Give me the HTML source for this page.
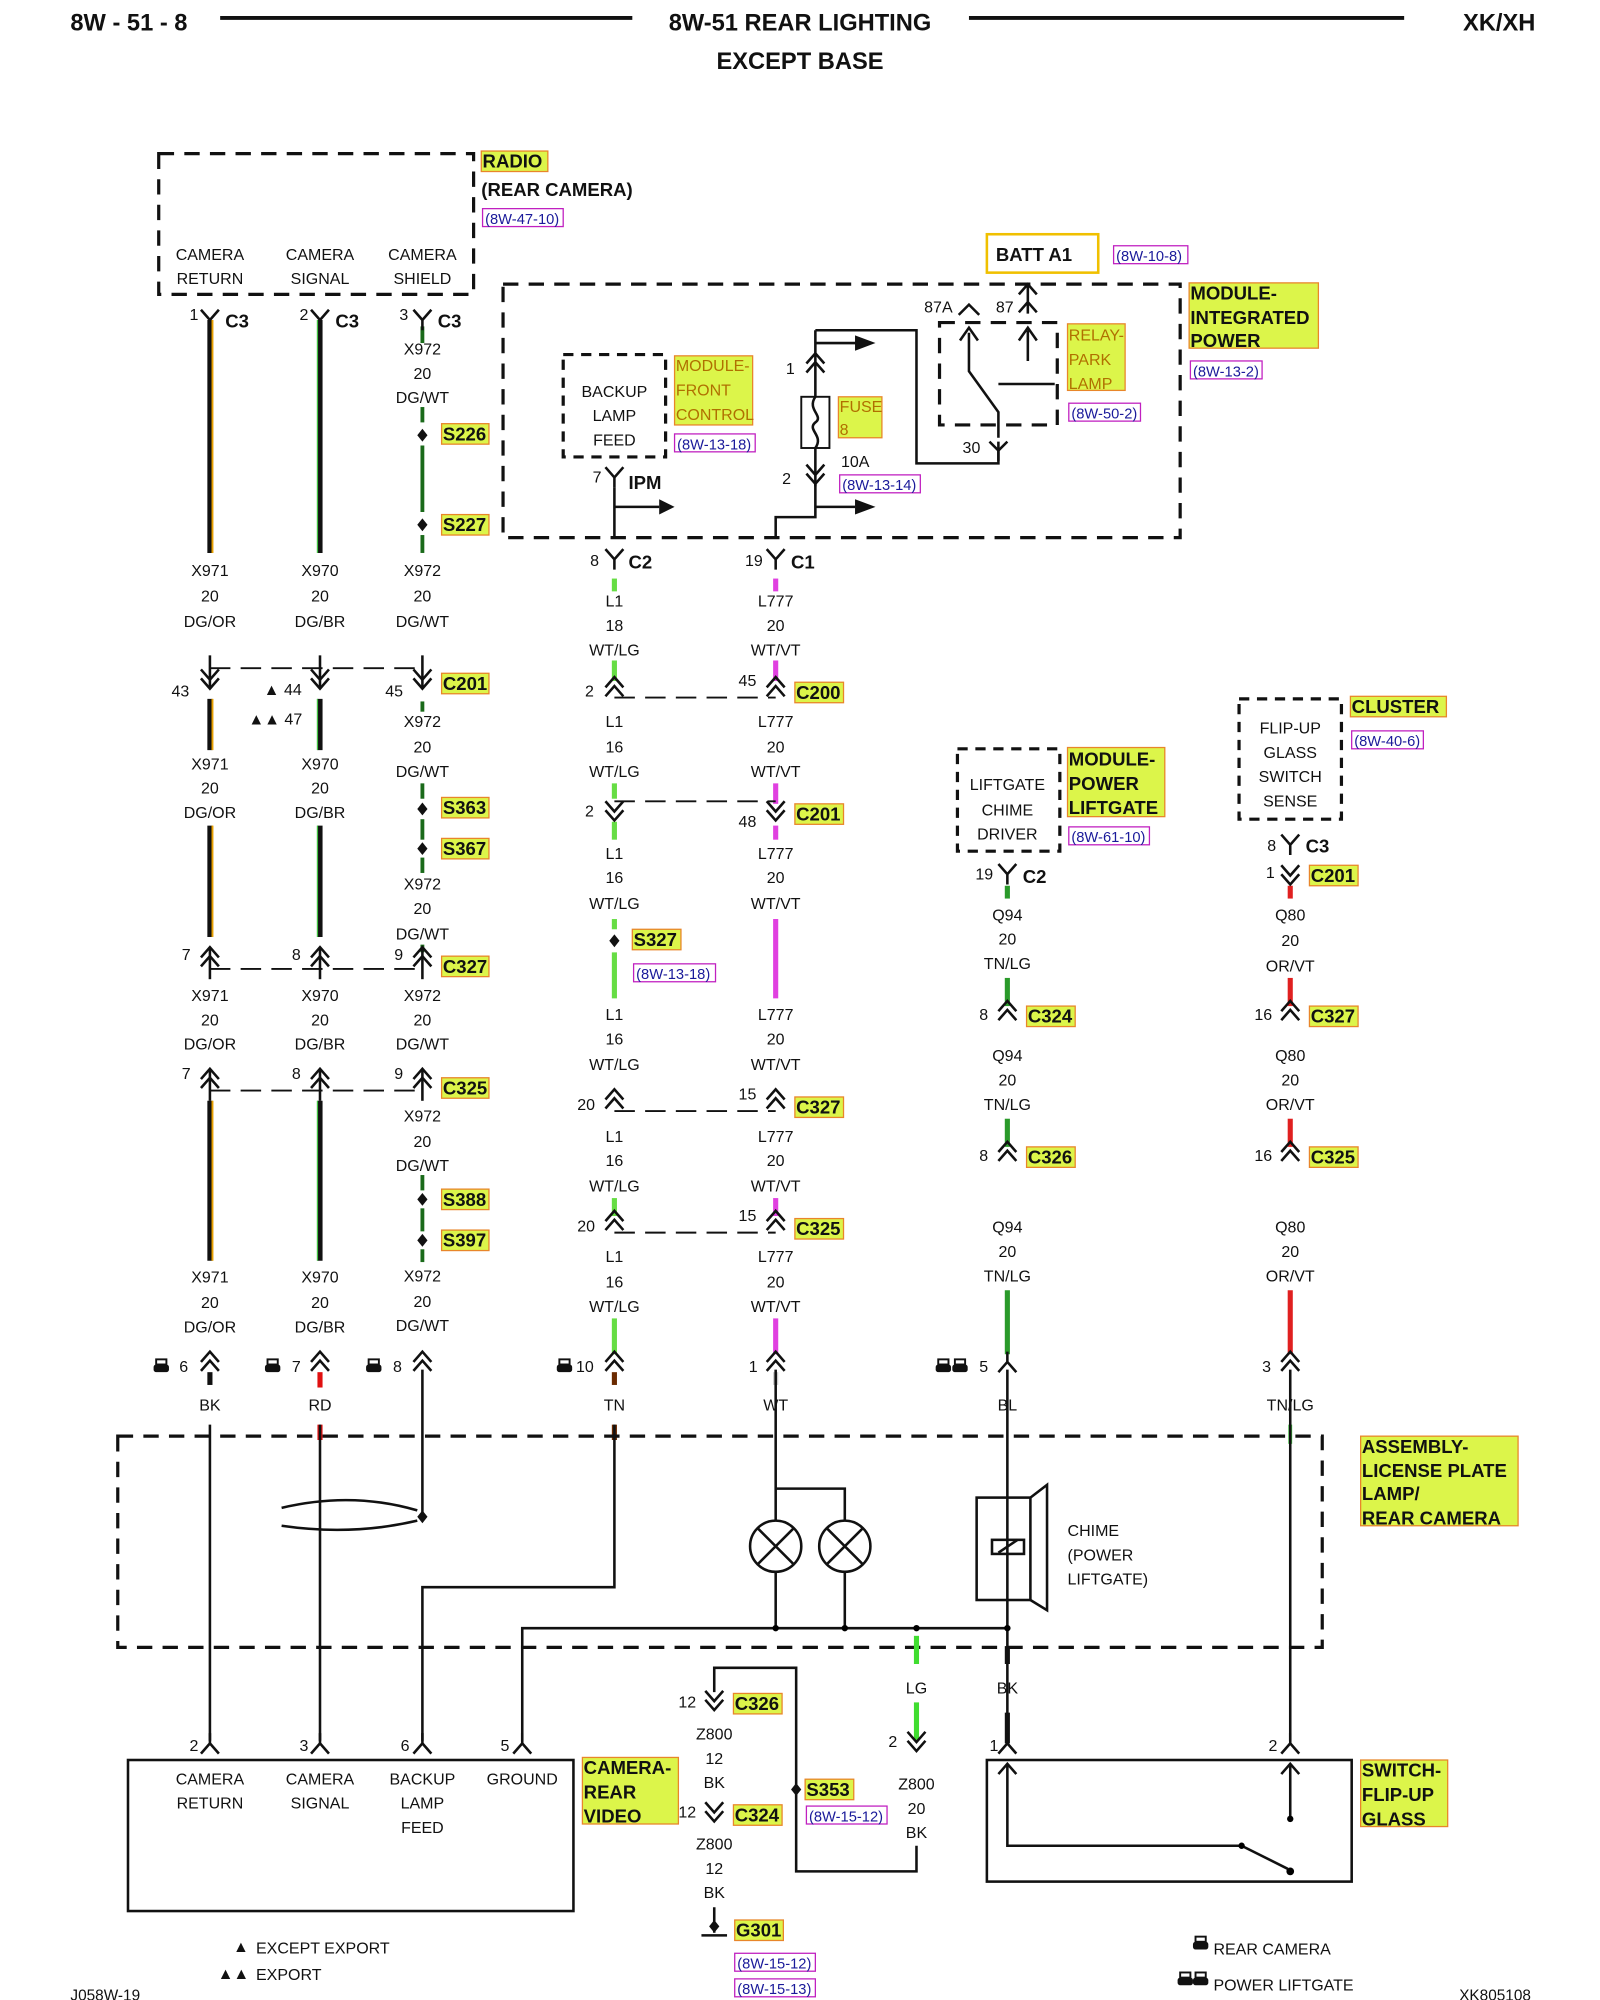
<!DOCTYPE html>
<html><head><meta charset="utf-8"><style>
html,body{margin:0;padding:0;background:#fff}
svg{display:block}
text{font-family:"Liberation Sans",sans-serif;font-size:12.5px;fill:#111}
.c{text-anchor:middle}
.b{font-weight:bold;font-size:14.5px}
.h{font-weight:bold;font-size:18.5px}
.r{font-size:11.5px;fill:#1a1a9a}
.d{fill:none;stroke:#111;stroke-width:2.5;stroke-dasharray:12 8}
.k{fill:none;stroke:#111;stroke-width:2}
.hl{fill:#dcf54a;stroke:#e8862a;stroke-width:1}
.rf{fill:none;stroke:#c020c0;stroke-width:1}
</style></head><body>
<svg width="1600" height="2000" viewBox="0 0 1250 1562.5" preserveAspectRatio="none" xmlns="http://www.w3.org/2000/svg">
<defs>
<g id="up"><path d="M-7,0 L0,-8 L7,0 M-7,7 L0,-1 L7,7" fill="none" stroke="#111" stroke-width="2"/></g>
<g id="dn"><path d="M-7,-7 L0,1 L7,-7 M-7,0 L0,8 L7,0" fill="none" stroke="#111" stroke-width="2"/></g>
<g id="y"><path d="M-7,-8 L0,0 L7,-8 M0,0 V8" fill="none" stroke="#111" stroke-width="2"/></g>
<g id="yu"><path d="M-7,8 L0,0 L7,8 M0,0 V-8" fill="none" stroke="#111" stroke-width="2"/></g>
<g id="sp"><path d="M0,-5 L4,0 L0,5 L-4,0Z" fill="#111"/></g>
<g id="cam"><rect x="-6" y="-3" width="12" height="6" rx="2" fill="#111"/><rect x="-4" y="-7" width="8" height="4" fill="none" stroke="#111" stroke-width="1.5"/></g>
</defs>
<!-- header -->
<text x="55" y="24" class="h">8W - 51 - 8</text>
<line x1="172" y1="14" x2="494" y2="14" stroke="#111" stroke-width="3"/>
<text x="625" y="24" class="h c">8W-51 REAR LIGHTING</text>
<line x1="757" y1="14" x2="1097" y2="14" stroke="#111" stroke-width="3"/>
<text x="1143" y="24" class="h">XK/XH</text>
<text x="625" y="54" class="h c">EXCEPT BASE</text>

<!-- radio -->
<rect x="124" y="120" width="246" height="110" class="d"/>
<text x="164" y="203" class="c">CAMERA</text><text x="164" y="222" class="c">RETURN</text>
<text x="250" y="203" class="c">CAMERA</text><text x="250" y="222" class="c">SIGNAL</text>
<text x="330" y="203" class="c">CAMERA</text><text x="330" y="222" class="c">SHIELD</text>
<rect x="376" y="118" width="52" height="16" class="hl"/><text x="377" y="131" class="b">RADIO</text>
<text x="376" y="153" class="b">(REAR CAMERA)</text>
<rect x="377" y="163" width="63" height="14" class="rf"/><text x="379" y="175" class="r">(8W-47-10)</text>

<!-- wires -->
<g stroke-width="4">
<line x1="164" y1="250" x2="164" y2="432" stroke="#111"/><line x1="166" y1="250" x2="166" y2="432" stroke="#e8a000" stroke-width="1.5"/>
<line x1="164" y1="546" x2="164" y2="586" stroke="#111"/><line x1="166" y1="546" x2="166" y2="586" stroke="#e8a000" stroke-width="1.5"/>
<line x1="164" y1="645" x2="164" y2="732" stroke="#111"/><line x1="166" y1="645" x2="166" y2="732" stroke="#e8a000" stroke-width="1.5"/>
<line x1="164" y1="860" x2="164" y2="985" stroke="#111"/><line x1="166" y1="860" x2="166" y2="985" stroke="#e8a000" stroke-width="1.5"/>
<line x1="250" y1="250" x2="250" y2="432" stroke="#111"/><line x1="248" y1="250" x2="248" y2="432" stroke="#40c040" stroke-width="1"/>
<line x1="250" y1="546" x2="250" y2="586" stroke="#111"/><line x1="248" y1="546" x2="248" y2="586" stroke="#40c040" stroke-width="1"/>
<line x1="250" y1="645" x2="250" y2="732" stroke="#111"/><line x1="248" y1="645" x2="248" y2="732" stroke="#40c040" stroke-width="1"/>
<line x1="250" y1="860" x2="250" y2="985" stroke="#111"/><line x1="248" y1="860" x2="248" y2="985" stroke="#40c040" stroke-width="1"/>
<g stroke="#1a6a1a" stroke-width="3">
<line x1="330" y1="255" x2="330" y2="268"/><line x1="330" y1="318" x2="330" y2="330"/><line x1="330" y1="348" x2="330" y2="400"/><line x1="330" y1="418" x2="330" y2="432"/>
<line x1="330" y1="548" x2="330" y2="556"/><line x1="330" y1="612" x2="330" y2="624"/><line x1="330" y1="640" x2="330" y2="656"/><line x1="330" y1="670" x2="330" y2="682"/>
<line x1="330" y1="738" x2="330" y2="744"/><line x1="330" y1="918" x2="330" y2="930"/><line x1="330" y1="944" x2="330" y2="962"/><line x1="330" y1="976" x2="330" y2="986"/>
</g>
<g stroke="#66dd44"><line x1="480" y1="452" x2="480" y2="462"/><line x1="480" y1="516" x2="480" y2="532"/><line x1="480" y1="612" x2="480" y2="624"/><line x1="480" y1="642" x2="480" y2="656"/><line x1="480" y1="718" x2="480" y2="726"/><line x1="480" y1="744" x2="480" y2="780"/><line x1="480" y1="936" x2="480" y2="950"/><line x1="480" y1="1030" x2="480" y2="1058"/></g>
<g stroke="#e040e0"><line x1="606" y1="452" x2="606" y2="462"/><line x1="606" y1="516" x2="606" y2="532"/><line x1="606" y1="612" x2="606" y2="628"/><line x1="606" y1="645" x2="606" y2="656"/><line x1="606" y1="718" x2="606" y2="780"/><line x1="606" y1="936" x2="606" y2="950"/><line x1="606" y1="1030" x2="606" y2="1058"/></g>
<g stroke="#2a9a2a"><line x1="787" y1="692" x2="787" y2="702"/><line x1="787" y1="764" x2="787" y2="786"/><line x1="787" y1="874" x2="787" y2="896"/><line x1="787" y1="1008" x2="787" y2="1058"/></g>
<g stroke="#e02020"><line x1="1008" y1="692" x2="1008" y2="702"/><line x1="1008" y1="764" x2="1008" y2="786"/><line x1="1008" y1="874" x2="1008" y2="896"/><line x1="1008" y1="1008" x2="1008" y2="1058"/></g>
</g>
<!-- bottom short colored leads -->
<line x1="164" y1="1072" x2="164" y2="1082" stroke="#111" stroke-width="4"/>
<line x1="250" y1="1072" x2="250" y2="1084" stroke="#e01010" stroke-width="4"/>
<line x1="250" y1="1113" x2="250" y2="1125" stroke="#e01010" stroke-width="4"/>
<line x1="480" y1="1072" x2="480" y2="1082" stroke="#6a2a00" stroke-width="4"/>
<line x1="480" y1="1113" x2="480" y2="1125" stroke="#6a2a00" stroke-width="4"/>
<line x1="606" y1="1072" x2="606" y2="1082" stroke="#ccc" stroke-width="4"/>
<line x1="1008" y1="1113" x2="1008" y2="1128" stroke="#40c040" stroke-width="3"/>

<!-- connector glyphs row C3 -->
<use href="#y" x="164" y="250"/><use href="#y" x="250" y="250"/><use href="#y" x="330" y="250"/>
<text x="148" y="250">1</text><text x="176" y="256" class="b">C3</text>
<text x="234" y="250">2</text><text x="262" y="256" class="b">C3</text>
<text x="312" y="250">3</text><text x="342" y="256" class="b">C3</text>
<use href="#sp" x="330" y="340"/><use href="#sp" x="330" y="410"/>
<rect x="345" y="331" width="37" height="16" class="hl"/><text x="346" y="344" class="b">S226</text>
<rect x="345" y="402" width="37" height="16" class="hl"/><text x="346" y="415" class="b">S227</text>
<text x="330" y="277" class="c">X972</text><text x="330" y="296" class="c">20</text><text x="330" y="315" class="c">DG/WT</text>

<!-- wire label blocks -->
<g>
<text x="164" y="450" class="c">X971</text><text x="164" y="470" class="c">20</text><text x="164" y="490" class="c">DG/OR</text>
<text x="250" y="450" class="c">X970</text><text x="250" y="470" class="c">20</text><text x="250" y="490" class="c">DG/BR</text>
<text x="330" y="450" class="c">X972</text><text x="330" y="470" class="c">20</text><text x="330" y="490" class="c">DG/WT</text>
<text x="164" y="601" class="c">X971</text><text x="164" y="620" class="c">20</text><text x="164" y="639" class="c">DG/OR</text>
<text x="250" y="601" class="c">X970</text><text x="250" y="620" class="c">20</text><text x="250" y="639" class="c">DG/BR</text>
<text x="330" y="568" class="c">X972</text><text x="330" y="588" class="c">20</text><text x="330" y="607" class="c">DG/WT</text>
<text x="330" y="695" class="c">X972</text><text x="330" y="714" class="c">20</text><text x="330" y="734" class="c">DG/WT</text>
<text x="164" y="782" class="c">X971</text><text x="164" y="801" class="c">20</text><text x="164" y="820" class="c">DG/OR</text>
<text x="250" y="782" class="c">X970</text><text x="250" y="801" class="c">20</text><text x="250" y="820" class="c">DG/BR</text>
<text x="330" y="782" class="c">X972</text><text x="330" y="801" class="c">20</text><text x="330" y="820" class="c">DG/WT</text>
<text x="330" y="876" class="c">X972</text><text x="330" y="896" class="c">20</text><text x="330" y="915" class="c">DG/WT</text>
<text x="164" y="1002" class="c">X971</text><text x="164" y="1022" class="c">20</text><text x="164" y="1041" class="c">DG/OR</text>
<text x="250" y="1002" class="c">X970</text><text x="250" y="1022" class="c">20</text><text x="250" y="1041" class="c">DG/BR</text>
<text x="330" y="1001" class="c">X972</text><text x="330" y="1021" class="c">20</text><text x="330" y="1040" class="c">DG/WT</text>
</g>
<!-- C201 left -->
<line x1="164" y1="522" x2="330" y2="522" stroke="#111" stroke-width="1.5" stroke-dasharray="16 8"/>
<use href="#dn" x="164" y="530"/><use href="#dn" x="250" y="530"/><use href="#dn" x="330" y="530"/>
<line x1="164" y1="512" x2="164" y2="538" stroke="#111" stroke-width="2"/><line x1="250" y1="512" x2="250" y2="538" stroke="#111" stroke-width="2"/><line x1="330" y1="512" x2="330" y2="538" stroke="#111" stroke-width="2"/>
<text x="134" y="544">43</text><text x="206" y="543">▲ 44</text><text x="194" y="566">▲▲ 47</text><text x="301" y="544">45</text>
<rect x="345" y="526" width="37" height="16" class="hl"/><text x="346" y="539" class="b">C201</text>
<use href="#sp" x="330" y="632"/><use href="#sp" x="330" y="663"/>
<rect x="345" y="623" width="37" height="16" class="hl"/><text x="346" y="636" class="b">S363</text>
<rect x="345" y="655" width="37" height="16" class="hl"/><text x="346" y="668" class="b">S367</text>
<!-- C327 left -->
<line x1="164" y1="757" x2="330" y2="757" stroke="#111" stroke-width="1.5" stroke-dasharray="16 8"/>
<use href="#up" x="164" y="748"/><use href="#up" x="250" y="748"/><use href="#up" x="330" y="748"/>
<line x1="164" y1="740" x2="164" y2="765" stroke="#111" stroke-width="2"/><line x1="250" y1="740" x2="250" y2="765" stroke="#111" stroke-width="2"/><line x1="330" y1="740" x2="330" y2="765" stroke="#111" stroke-width="2"/>
<text x="142" y="750">7</text><text x="228" y="750">8</text><text x="308" y="750">9</text>
<rect x="345" y="747" width="37" height="16" class="hl"/><text x="346" y="760" class="b">C327</text>
<!-- C325 left -->
<line x1="164" y1="852" x2="330" y2="852" stroke="#111" stroke-width="1.5" stroke-dasharray="16 8"/>
<use href="#up" x="164" y="843"/><use href="#up" x="250" y="843"/><use href="#up" x="330" y="843"/>
<line x1="164" y1="835" x2="164" y2="860" stroke="#111" stroke-width="2"/><line x1="250" y1="835" x2="250" y2="860" stroke="#111" stroke-width="2"/><line x1="330" y1="835" x2="330" y2="860" stroke="#111" stroke-width="2"/>
<text x="142" y="843">7</text><text x="228" y="843">8</text><text x="308" y="843">9</text>
<rect x="345" y="842" width="37" height="16" class="hl"/><text x="346" y="855" class="b">C325</text>
<use href="#sp" x="330" y="937"/><use href="#sp" x="330" y="969"/>
<rect x="345" y="929" width="37" height="16" class="hl"/><text x="346" y="942" class="b">S388</text>
<rect x="345" y="961" width="37" height="16" class="hl"/><text x="346" y="974" class="b">S397</text>

<!-- bottom connectors row 1067 -->
<use href="#up" x="164" y="1064"/><use href="#up" x="250" y="1064"/><use href="#up" x="330" y="1064"/><use href="#up" x="480" y="1064"/><use href="#up" x="606" y="1064"/><use href="#yu" x="787" y="1064"/><use href="#up" x="1008" y="1064"/>
<use href="#cam" x="126" y="1069"/><text x="140" y="1072">6</text>
<use href="#cam" x="213" y="1069"/><text x="228" y="1072">7</text>
<use href="#cam" x="292" y="1069"/><text x="307" y="1072">8</text>
<use href="#cam" x="441" y="1069"/><text x="450" y="1072">10</text>
<text x="585" y="1072">1</text>
<use href="#cam" x="737" y="1069"/><use href="#cam" x="750" y="1069"/><text x="765" y="1072">5</text>
<text x="986" y="1072">3</text>
<text x="164" y="1102" class="c">BK</text><text x="250" y="1102" class="c">RD</text><text x="480" y="1102" class="c">TN</text><text x="606" y="1102" class="c">WT</text><text x="787" y="1102" class="c">BL</text><text x="1008" y="1102" class="c">TN/LG</text>

<!-- IPM -->
<rect x="393" y="222" width="529" height="198" class="d"/>
<rect x="440" y="277" width="80" height="80" class="d" stroke-width="2" style="stroke-dasharray:8 6"/>
<text x="480" y="310" class="c">BACKUP</text><text x="480" y="329" class="c">LAMP</text><text x="480" y="348" class="c">FEED</text>
<rect x="527" y="278" width="61" height="54" class="hl"/><text x="528" y="290" style="fill:#b07000">MODULE-</text><text x="528" y="309" style="fill:#b07000">FRONT</text><text x="528" y="328" style="fill:#b07000">CONTROL</text>
<rect x="527" y="339" width="63" height="14" class="rf"/><text x="529" y="351" class="r">(8W-13-18)</text>
<use href="#y" x="480" y="373"/><text x="463" y="377">7</text><text x="491" y="382" class="b">IPM</text>
<path d="M480,381 V420 M480,396 H515" class="k"/><path d="M515,390 L527,396 L515,402Z" fill="#111"/>
<!-- fuse -->
<path d="M637,258 V380 M637,258 H716 V362 H780 V345 M637,268 H670" class="k"/><path d="M668,262 L684,268 L668,274Z" fill="#111"/>
<use href="#up" x="637" y="284"/><text x="614" y="292">1</text>
<rect x="626" y="310" width="22" height="40" fill="#fff" stroke="#111" stroke-width="1.5"/><path d="M637,310 C630,320 644,325 637,330 C630,336 644,340 637,350" class="k" stroke-width="1.5"/>
<rect x="655" y="310" width="34" height="32" class="hl"/><text x="656" y="322" style="fill:#b07000">FUSE</text><text x="656" y="340" style="fill:#b07000">8</text>
<text x="657" y="365">10A</text><rect x="656" y="371" width="63" height="14" class="rf"/><text x="658" y="383" class="r">(8W-13-14)</text>
<use href="#dn" x="637" y="370"/><text x="611" y="378">2</text>
<path d="M637,378 V404 H606 V420 M637,396 H668" class="k"/><path d="M668,390 L684,396 L668,402Z" fill="#111"/>
<!-- relay -->
<rect x="734" y="252" width="92" height="80" class="d" stroke-width="2"/>
<path d="M757,260 V290 L780,322 V342 M803,258 V282 M780,300 H824 M750,266 L757,256 L764,266 M796,266 L803,256 L810,266" class="k"/>
<path d="M749,246 L757,238 L765,246 M796,244 L803,236 L810,244 M803,222 V245 M796,230 L803,222 L810,230 M773,345 L780,352 L787,345 M780,352 V360" class="k"/>
<text x="722" y="244">87A</text><text x="778" y="244">87</text><text x="752" y="354">30</text>
<rect x="834" y="253" width="45" height="52" class="hl"/><text x="835" y="266" style="fill:#b07000">RELAY-</text><text x="835" y="285" style="fill:#b07000">PARK</text><text x="835" y="304" style="fill:#b07000">LAMP</text>
<rect x="835" y="315" width="56" height="14" class="rf"/><text x="837" y="327" class="r">(8W-50-2)</text>
<rect x="771" y="183" width="87" height="30" fill="#fff" stroke="#f0c000" stroke-width="2"/><text x="778" y="204" class="b">BATT A1</text>
<rect x="870" y="192" width="58" height="14" class="rf"/><text x="872" y="204" class="r">(8W-10-8)</text>
<rect x="929" y="221" width="101" height="51" class="hl"/><text x="930" y="234" class="b">MODULE-</text><text x="930" y="253" class="b">INTEGRATED</text><text x="930" y="271" class="b">POWER</text>
<rect x="930" y="282" width="56" height="14" class="rf"/><text x="932" y="294" class="r">(8W-13-2)</text>

<!-- col 480 / 606 -->
<use href="#y" x="480" y="437"/><text x="461" y="442">8</text><text x="491" y="444" class="b">C2</text>
<use href="#y" x="606" y="437"/><text x="582" y="442">19</text><text x="618" y="444" class="b">C1</text>
<g>
<text x="480" y="474" class="c">L1</text><text x="480" y="493" class="c">18</text><text x="480" y="512" class="c">WT/LG</text>
<text x="606" y="474" class="c">L777</text><text x="606" y="493" class="c">20</text><text x="606" y="512" class="c">WT/VT</text>
<text x="480" y="568" class="c">L1</text><text x="480" y="588" class="c">16</text><text x="480" y="607" class="c">WT/LG</text>
<text x="606" y="568" class="c">L777</text><text x="606" y="588" class="c">20</text><text x="606" y="607" class="c">WT/VT</text>
<text x="480" y="671" class="c">L1</text><text x="480" y="690" class="c">16</text><text x="480" y="710" class="c">WT/LG</text>
<text x="606" y="671" class="c">L777</text><text x="606" y="690" class="c">20</text><text x="606" y="710" class="c">WT/VT</text>
<text x="480" y="797" class="c">L1</text><text x="480" y="816" class="c">16</text><text x="480" y="836" class="c">WT/LG</text>
<text x="606" y="797" class="c">L777</text><text x="606" y="816" class="c">20</text><text x="606" y="836" class="c">WT/VT</text>
<text x="480" y="892" class="c">L1</text><text x="480" y="911" class="c">16</text><text x="480" y="931" class="c">WT/LG</text>
<text x="606" y="892" class="c">L777</text><text x="606" y="911" class="c">20</text><text x="606" y="931" class="c">WT/VT</text>
<text x="480" y="986" class="c">L1</text><text x="480" y="1006" class="c">16</text><text x="480" y="1025" class="c">WT/LG</text>
<text x="606" y="986" class="c">L777</text><text x="606" y="1006" class="c">20</text><text x="606" y="1025" class="c">WT/VT</text>
</g>
<!-- C200 -->
<line x1="480" y1="545" x2="606" y2="545" stroke="#111" stroke-width="1.5" stroke-dasharray="16 8"/>
<use href="#up" x="480" y="537"/><use href="#up" x="606" y="537"/>
<text x="457" y="544">2</text><text x="577" y="536">45</text>
<rect x="621" y="533" width="38" height="16" class="hl"/><text x="622" y="546" class="b">C200</text>
<!-- C201 mid -->
<line x1="480" y1="626" x2="606" y2="626" stroke="#111" stroke-width="1.5" stroke-dasharray="16 8"/>
<use href="#dn" x="480" y="633"/><use href="#dn" x="606" y="633"/>
<text x="457" y="638">2</text><text x="577" y="646">48</text>
<rect x="621" y="628" width="38" height="16" class="hl"/><text x="622" y="641" class="b">C201</text>
<use href="#sp" x="480" y="735"/>
<rect x="494" y="726" width="38" height="16" class="hl"/><text x="495" y="739" class="b">S327</text>
<rect x="495" y="753" width="64" height="14" class="rf"/><text x="497" y="765" class="r">(8W-13-18)</text>
<!-- C327 mid -->
<line x1="480" y1="868" x2="606" y2="868" stroke="#111" stroke-width="1.5" stroke-dasharray="16 8"/>
<use href="#up" x="480" y="859"/><use href="#up" x="606" y="859"/>
<text x="451" y="867">20</text><text x="577" y="859">15</text>
<rect x="621" y="857" width="38" height="16" class="hl"/><text x="622" y="870" class="b">C327</text>
<!-- C325 mid -->
<line x1="480" y1="963" x2="606" y2="963" stroke="#111" stroke-width="1.5" stroke-dasharray="16 8"/>
<use href="#up" x="480" y="954"/><use href="#up" x="606" y="954"/>
<text x="451" y="962">20</text><text x="577" y="954">15</text>
<rect x="621" y="952" width="38" height="16" class="hl"/><text x="622" y="965" class="b">C325</text>

<!-- col 787 -->
<rect x="748" y="585" width="80" height="80" class="d" stroke-width="2" style="stroke-dasharray:8 6"/>
<text x="787" y="617" class="c">LIFTGATE</text><text x="787" y="637" class="c">CHIME</text><text x="787" y="656" class="c">DRIVER</text>
<rect x="834" y="584" width="76" height="54" class="hl"/><text x="835" y="598" class="b">MODULE-</text><text x="835" y="617" class="b">POWER</text><text x="835" y="636" class="b">LIFTGATE</text>
<rect x="835" y="646" width="63" height="14" class="rf"/><text x="837" y="658" class="r">(8W-61-10)</text>
<use href="#y" x="787" y="683"/><text x="762" y="687">19</text><text x="799" y="690" class="b">C2</text>
<text x="787" y="719" class="c">Q94</text><text x="787" y="738" class="c">20</text><text x="787" y="757" class="c">TN/LG</text>
<use href="#up" x="787" y="790"/><text x="765" y="797">8</text><rect x="802" y="786" width="38" height="16" class="hl"/><text x="803" y="799" class="b">C324</text>
<text x="787" y="829" class="c">Q94</text><text x="787" y="848" class="c">20</text><text x="787" y="867" class="c">TN/LG</text>
<use href="#up" x="787" y="900"/><text x="765" y="907">8</text><rect x="802" y="896" width="38" height="16" class="hl"/><text x="803" y="909" class="b">C326</text>
<text x="787" y="963" class="c">Q94</text><text x="787" y="982" class="c">20</text><text x="787" y="1001" class="c">TN/LG</text>

<!-- col 1008 -->
<rect x="968" y="546" width="80" height="94" class="d" stroke-width="2" style="stroke-dasharray:8 6"/>
<text x="1008" y="573" class="c">FLIP-UP</text><text x="1008" y="592" class="c">GLASS</text><text x="1008" y="611" class="c">SWITCH</text><text x="1008" y="630" class="c">SENSE</text>
<rect x="1055" y="544" width="75" height="16" class="hl"/><text x="1056" y="557" class="b">CLUSTER</text>
<rect x="1056" y="571" width="56" height="14" class="rf"/><text x="1058" y="583" class="r">(8W-40-6)</text>
<use href="#y" x="1008" y="660"/><text x="990" y="665">8</text><text x="1020" y="666" class="b">C3</text>
<use href="#dn" x="1008" y="683"/><text x="989" y="686">1</text><rect x="1023" y="676" width="38" height="16" class="hl"/><text x="1024" y="689" class="b">C201</text>
<text x="1008" y="719" class="c">Q80</text><text x="1008" y="739" class="c">20</text><text x="1008" y="759" class="c">OR/VT</text>
<use href="#up" x="1008" y="790"/><text x="980" y="797">16</text><rect x="1023" y="786" width="38" height="16" class="hl"/><text x="1024" y="799" class="b">C327</text>
<text x="1008" y="829" class="c">Q80</text><text x="1008" y="848" class="c">20</text><text x="1008" y="867" class="c">OR/VT</text>
<use href="#up" x="1008" y="900"/><text x="980" y="907">16</text><rect x="1023" y="896" width="38" height="16" class="hl"/><text x="1024" y="909" class="b">C325</text>
<text x="1008" y="963" class="c">Q80</text><text x="1008" y="982" class="c">20</text><text x="1008" y="1001" class="c">OR/VT</text>

<!-- assembly -->
<rect x="92" y="1122" width="941" height="165" class="d"/>
<rect x="1063" y="1122" width="123" height="70" class="hl"/><text x="1064" y="1135" class="b">ASSEMBLY-</text><text x="1064" y="1154" class="b">LICENSE PLATE</text><text x="1064" y="1172" class="b">LAMP/</text><text x="1064" y="1191" class="b">REAR CAMERA</text>
<path d="M164,1113 V1360 M250,1113 V1360 M330,1070 V1185 M480,1113 V1240 H330 V1360 M408,1360 V1272 H787 M606,1070 V1163 H660 V1188 M606,1163 V1188 M606,1228 V1272 M660,1228 V1272 M787,1070 V1360 M1008,1070 V1360" class="k" stroke-width="1.6"/>
<path d="M220,1178 Q275,1165 326,1180 M220,1192 Q275,1200 326,1188" class="k"/>
<use href="#sp" x="330" y="1185"/>
<g class="k" stroke-width="2"><circle cx="606" cy="1208" r="20"/><path d="M592,1194 L620,1222 M620,1194 L592,1222"/><circle cx="660" cy="1208" r="20"/><path d="M646,1194 L674,1222 M674,1194 L646,1222"/></g>
<circle cx="606" cy="1272" r="2.5"/><circle cx="660" cy="1272" r="2.5"/><circle cx="787" cy="1272" r="2.5"/><circle cx="716" cy="1272" r="2.5"/>
<rect x="763" y="1170" width="42" height="80" class="k"/><path d="M805,1170 L818,1160 V1258 L805,1250" class="k"/>
<rect x="775" y="1203" width="25" height="11" class="k"/><path d="M780,1213 L795,1203" class="k" stroke-width="1.5"/>
<text x="834" y="1200">CHIME</text><text x="834" y="1219">(POWER</text><text x="834" y="1238">LIFTGATE)</text>
<line x1="787" y1="1286" x2="787" y2="1300" stroke="#111" stroke-width="4"/><text x="787" y="1323" class="c">BK</text>
<line x1="787" y1="1338" x2="787" y2="1362" stroke="#111" stroke-width="4"/>
<line x1="716" y1="1278" x2="716" y2="1300" stroke="#40dd30" stroke-width="4"/><text x="716" y="1323" class="c">LG</text>
<line x1="716" y1="1330" x2="716" y2="1360" stroke="#40dd30" stroke-width="4"/>
<use href="#dn" x="716" y="1360"/><text x="694" y="1365">2</text>
<text x="716" y="1398" class="c">Z800</text><text x="716" y="1417" class="c">20</text><text x="716" y="1436" class="c">BK</text>
<path d="M716,1442 V1462 H622 V1303 H558 V1322" class="k" stroke-width="4"/>
<use href="#sp" x="622" y="1398"/>
<rect x="629" y="1390" width="38" height="16" class="hl"/><text x="630" y="1403" class="b">S353</text>
<rect x="630" y="1411" width="63" height="14" class="rf"/><text x="632" y="1423" class="r">(8W-15-12)</text>
<use href="#dn" x="558" y="1328"/><text x="530" y="1334">12</text><rect x="573" y="1323" width="38" height="16" class="hl"/><text x="574" y="1336" class="b">C326</text>
<text x="558" y="1359" class="c">Z800</text><text x="558" y="1378" class="c">12</text><text x="558" y="1397" class="c">BK</text>
<use href="#dn" x="558" y="1415"/><text x="530" y="1420">12</text><rect x="573" y="1410" width="38" height="16" class="hl"/><text x="574" y="1423" class="b">C324</text>
<text x="558" y="1445" class="c">Z800</text><text x="558" y="1464" class="c">12</text><text x="558" y="1483" class="c">BK</text>
<path d="M558,1490 V1510 M548,1512 H568" class="k" stroke-width="2.5"/><use href="#sp" x="558" y="1505"/>
<rect x="574" y="1500" width="38" height="16" class="hl"/><text x="575" y="1513" class="b">G301</text>
<rect x="574" y="1526" width="63" height="14" class="rf"/><text x="576" y="1538" class="r">(8W-15-12)</text>
<rect x="574" y="1546" width="63" height="14" class="rf"/><text x="576" y="1558" class="r">(8W-15-13)</text>

<!-- camera video box -->
<rect x="100" y="1375" width="348" height="118" class="k" stroke-width="2.5"/>
<use href="#yu" x="164" y="1362"/><use href="#yu" x="250" y="1362"/><use href="#yu" x="330" y="1362"/><use href="#yu" x="408" y="1362"/>
<text x="148" y="1368">2</text><text x="234" y="1368">3</text><text x="313" y="1368">6</text><text x="391" y="1368">5</text>
<text x="164" y="1394" class="c">CAMERA</text><text x="164" y="1413" class="c">RETURN</text>
<text x="250" y="1394" class="c">CAMERA</text><text x="250" y="1413" class="c">SIGNAL</text>
<text x="330" y="1394" class="c">BACKUP</text><text x="330" y="1413" class="c">LAMP</text><text x="330" y="1432" class="c">FEED</text>
<text x="408" y="1394" class="c">GROUND</text>
<rect x="455" y="1373" width="75" height="52" class="hl"/><text x="456" y="1386" class="b">CAMERA-</text><text x="456" y="1405" class="b">REAR</text><text x="456" y="1424" class="b">VIDEO</text>

<!-- switch box -->
<rect x="771" y="1375" width="285" height="95" class="k" stroke-width="2.5"/>
<use href="#yu" x="787" y="1362"/><use href="#yu" x="1008" y="1362"/><text x="773" y="1368">1</text><text x="991" y="1368">2</text>
<path d="M787,1378 V1442 H970 L1006,1460 M1008,1378 V1420 M780,1386 L787,1378 L794,1386 M1001,1386 L1008,1378 L1015,1386" class="k"/>
<circle cx="970" cy="1442" r="2.5"/><circle cx="1008" cy="1421" r="2.5"/><circle cx="1008" cy="1462" r="3"/>
<rect x="1063" y="1375" width="68" height="52" class="hl"/><text x="1064" y="1388" class="b">SWITCH-</text><text x="1064" y="1407" class="b">FLIP-UP</text><text x="1064" y="1426" class="b">GLASS</text>

<!-- legend -->
<text x="182" y="1525">▲</text><text x="200" y="1526">EXCEPT EXPORT</text>
<text x="170" y="1546">▲▲</text><text x="200" y="1547">EXPORT</text>
<text x="55" y="1563" style="font-size:12px">J058W-19</text>
<use href="#cam" x="938" y="1520"/><text x="948" y="1527">REAR CAMERA</text>
<use href="#cam" x="926" y="1548"/><use href="#cam" x="938" y="1548"/><text x="948" y="1555">POWER LIFTGATE</text>
<text x="1140" y="1563" style="font-size:12px">XK805108</text>
</svg>
</body></html>
